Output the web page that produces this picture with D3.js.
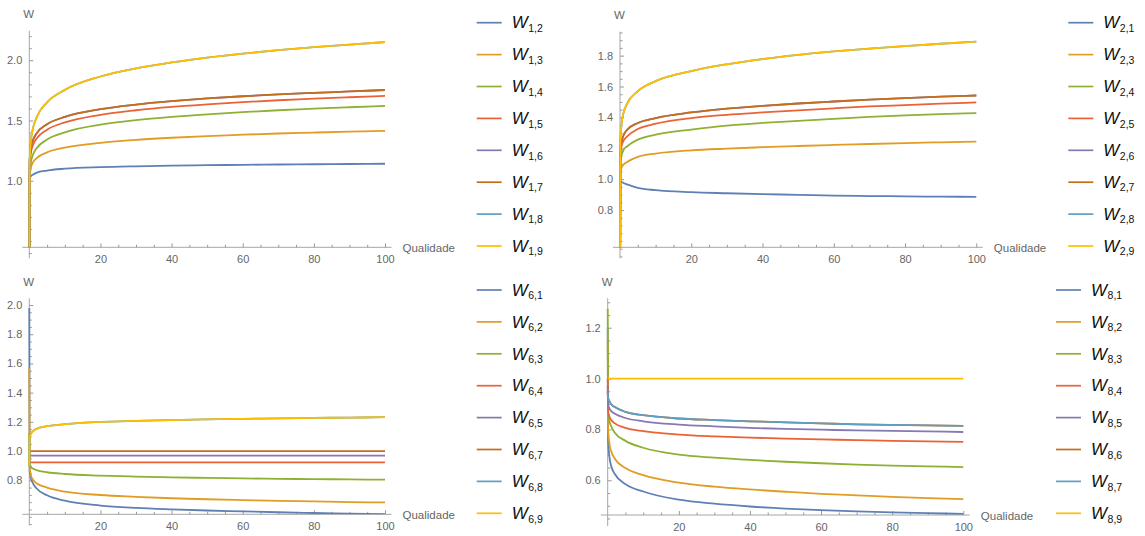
<!DOCTYPE html>
<html>
<head>
<meta charset="utf-8">
<script src="https://cdn.jsdelivr.net/npm/d3@7"></script>
<style>
  body { margin: 0; background: #fff; }
  svg { font-family: "Liberation Sans", Arial, sans-serif; }
  .tick text { fill: #666; font-size: 11px; }
  .tick line { stroke: #999; }
  .axis-line { stroke: #a6a6a6; stroke-width: 1; }
  .axis-title { fill: #666; font-size: 11.5px; }
</style>
</head>
<body>
<svg id="chart" width="1145" height="536"></svg>
<script>
// sample points along "Qualidade"
const quality = [0, 0.1, 0.5, 1, 2, 5, 10, 20, 30, 40, 50, 60, 70, 80, 90, 100];

// W1,j
const w1_2 = [0, 1.02, 1.04, 1.05, 1.066, 1.085, 1.10, 1.113, 1.12, 1.125, 1.129, 1.132, 1.135, 1.137, 1.139, 1.141];
const w1_3 = [0, 1.037, 1.115, 1.150, 1.186, 1.236, 1.275, 1.315, 1.340, 1.357, 1.371, 1.382, 1.392, 1.400, 1.408, 1.414];
const w1_4 = [0, 1.049, 1.161, 1.213, 1.267, 1.342, 1.402, 1.465, 1.503, 1.530, 1.551, 1.569, 1.585, 1.598, 1.610, 1.621];
const w1_5 = [0, 1.126, 1.240, 1.293, 1.348, 1.424, 1.484, 1.547, 1.585, 1.613, 1.634, 1.652, 1.668, 1.681, 1.693, 1.704];
const w1_7 = [0, 1.165, 1.282, 1.335, 1.391, 1.469, 1.530, 1.594, 1.632, 1.660, 1.683, 1.701, 1.716, 1.729, 1.741, 1.753];
const w1_9 = [0, 1.167, 1.344, 1.431, 1.522, 1.651, 1.754, 1.865, 1.933, 1.982, 2.022, 2.055, 2.084, 2.108, 2.130, 2.150];
const w1_6 = w1_7; // covered by W1,7
const w1_8 = w1_9; // covered by W1,9

// W2,j
const w2_1 = [0, 0.985, 0.982, 0.975, 0.966, 0.944, 0.929, 0.916, 0.909, 0.903, 0.899, 0.894, 0.891, 0.889, 0.887, 0.886];
const w2_3 = [0, 1.05, 1.08, 1.095, 1.112, 1.145, 1.166, 1.187, 1.198, 1.207, 1.215, 1.222, 1.228, 1.234, 1.239, 1.243];
const w2_4 = [0, 1.11, 1.16, 1.19, 1.213, 1.256, 1.288, 1.321, 1.347, 1.364, 1.378, 1.391, 1.403, 1.413, 1.421, 1.428];
const w2_5 = [0, 1.17, 1.22, 1.25, 1.277, 1.325, 1.359, 1.396, 1.417, 1.432, 1.446, 1.459, 1.471, 1.480, 1.489, 1.497];
const w2_7 = [0, 1.20, 1.25, 1.285, 1.32, 1.364, 1.396, 1.432, 1.457, 1.475, 1.490, 1.503, 1.515, 1.525, 1.534, 1.542];
const w2_9 = [0, 1.25, 1.37, 1.43, 1.49, 1.57, 1.635, 1.70, 1.744, 1.778, 1.805, 1.827, 1.846, 1.862, 1.877, 1.891];
const w2_6 = w2_7;
const w2_8 = w2_9;

// W6,j
const w6_1 = [1.98, 0.86, 0.81, 0.78, 0.745, 0.697, 0.66, 0.627, 0.611, 0.601, 0.593, 0.587, 0.581, 0.576, 0.572, 0.568];
const w6_2 = [1.57, 0.89, 0.83, 0.805, 0.78, 0.75, 0.722, 0.699, 0.687, 0.677, 0.670, 0.664, 0.659, 0.655, 0.651, 0.648];
const w6_3 = [1.12, 0.91, 0.89, 0.88, 0.87, 0.855, 0.843, 0.832, 0.825, 0.82, 0.816, 0.813, 0.81, 0.808, 0.806, 0.804];
const w6_4 = [0.922, 0.922, 0.922, 0.922, 0.922, 0.922, 0.922, 0.922, 0.922, 0.922, 0.922, 0.922, 0.922, 0.922, 0.922, 0.922];
const w6_5 = [0.969, 0.969, 0.969, 0.969, 0.969, 0.969, 0.969, 0.969, 0.969, 0.969, 0.969, 0.969, 0.969, 0.969, 0.969, 0.969];
const w6_7 = [1, 1, 1, 1, 1, 1, 1, 1, 1, 1, 1, 1, 1, 1, 1, 1];
const w6_9 = [0.9, 1.09, 1.12, 1.135, 1.152, 1.17, 1.184, 1.20, 1.207, 1.212, 1.217, 1.221, 1.224, 1.227, 1.229, 1.232];
const w6_8 = w6_9;

// W8,j
const w8_1 = [1.2, 0.76, 0.69, 0.655, 0.625, 0.585, 0.556, 0.524, 0.508, 0.497, 0.489, 0.483, 0.478, 0.474, 0.471, 0.468];
const w8_2 = [1.15, 0.81, 0.742, 0.713, 0.685, 0.648, 0.62, 0.591, 0.575, 0.564, 0.555, 0.547, 0.541, 0.535, 0.530, 0.526];
const w8_3 = [1.275, 0.865, 0.832, 0.812, 0.787, 0.755, 0.728, 0.701, 0.689, 0.68, 0.673, 0.667, 0.662, 0.658, 0.655, 0.652];
const w8_4 = [1.0, 0.875, 0.85, 0.837, 0.824, 0.806, 0.793, 0.780, 0.773, 0.768, 0.764, 0.761, 0.758, 0.755, 0.753, 0.751];
const w8_5 = [0.97, 0.90, 0.882, 0.872, 0.862, 0.845, 0.832, 0.819, 0.812, 0.806, 0.802, 0.799, 0.796, 0.794, 0.792, 0.790];
const w8_7 = [0.95, 0.925, 0.91, 0.899, 0.888, 0.869, 0.856, 0.843, 0.837, 0.832, 0.828, 0.824, 0.82, 0.818, 0.816, 0.814];
const w8_9 = [1, 1, 1, 1, 1, 1, 1, 1, 1, 1, 1, 1, 1, 1, 1, 1];
const w8_6 = w8_7;

const labels1 = ["1,2", "1,3", "1,4", "1,5", "1,6", "1,7", "1,8", "1,9"];
const labels2 = ["2,1", "2,3", "2,4", "2,5", "2,6", "2,7", "2,8", "2,9"];
const labels6 = ["6,1", "6,2", "6,3", "6,4", "6,5", "6,7", "6,8", "6,9"];
const labels8 = ["8,1", "8,2", "8,3", "8,4", "8,5", "8,6", "8,7", "8,9"];

const xTicks = [20, 40, 60, 80, 100];
const yTicks1 = [1.0, 1.5, 2.0];
const yTicks2 = [0.8, 1.0, 1.2, 1.4, 1.6, 1.8];
const yTicks6 = [0.8, 1.0, 1.2, 1.4, 1.6, 1.8, 2.0];
const yTicks8 = [0.6, 0.8, 1.0, 1.2];

const colors = ["#5e81b5", "#e19c24", "#8fb032", "#eb6235", "#8778b3", "#c56e1a", "#5d9ec7", "#ffbf00"];

const panels = [
  { series: [w1_2, w1_3, w1_4, w1_5, w1_6, w1_7, w1_8, w1_9], labels: labels1, yTicks: yTicks1, minor: 0.1,
    yd: [0.448, 2.245], xr: [29.3, 385], yr: [247.3, 30.7], lx: 476.7, ly: 22.7 },
  { series: [w2_1, w2_3, w2_4, w2_5, w2_6, w2_7, w2_8, w2_9], labels: labels2, yTicks: yTicks2, minor: 0.05,
    yd: [0.559, 1.955], xr: [620, 976.3], yr: [247.3, 31.7], lx: 1068.3, ly: 22.7 },
  { series: [w6_1, w6_2, w6_3, w6_4, w6_5, w6_7, w6_8, w6_9], labels: labels6, yTicks: yTicks6, minor: 0.05,
    yd: [0.567, 2.046], xr: [29.3, 385], yr: [514.3, 298.3], lx: 476.7, ly: 290 },
  { series: [w8_1, w8_2, w8_3, w8_4, w8_5, w8_6, w8_7, w8_9], labels: labels8, yTicks: yTicks8, minor: 0.05,
    yd: [0.4636, 1.3156], xr: [607.7, 963.3], yr: [515, 298.3], lx: 1056, ly: 290 }
];

const svg = d3.select("#chart");
const fmt = d3.format(".1f");

panels.forEach((p, pi) => {
  const x = d3.scaleLinear().domain([0, 100]).range(p.xr);
  const y = d3.scaleLinear().domain(p.yd).range(p.yr);
  const g = svg.append("g");
  const axisY = p.yr[0];
  const axisX = p.xr[0];

  // axes lines
  g.append("line").attr("class", "axis-line")
    .attr("x1", axisX - 7).attr("x2", x(100) + 6.5)
    .attr("y1", axisY).attr("y2", axisY);
  g.append("line").attr("class", "axis-line")
    .attr("x1", axisX).attr("x2", axisX)
    .attr("y1", p.yr[1]).attr("y2", axisY + 11);

  // x ticks
  const xMinor = d3.range(5, 101, 5).filter(v => v % 20 !== 0);
  g.append("g").attr("transform", `translate(0,${axisY})`)
    .call(d3.axisBottom(x).tickValues(xMinor).tickSizeInner(-2.5).tickSizeOuter(0).tickFormat(""))
    .call(s => s.select(".domain").remove());
  g.append("g").attr("transform", `translate(0,${axisY})`)
    .call(d3.axisBottom(x).tickValues(xTicks).tickSizeInner(-4).tickSizeOuter(0).tickPadding(8))
    .call(s => s.select(".domain").remove());

  // y ticks
  const yLow = y.invert(axisY + 11);
  const yTop = p.yd[1];
  const yMinor = d3.range(Math.ceil(yLow / p.minor), Math.floor(yTop / p.minor) + 1)
    .map(k => k * p.minor)
    .filter(v => !p.yTicks.some(m => Math.abs(m - v) < 1e-6));
  g.append("g").attr("transform", `translate(${axisX},0)`)
    .call(d3.axisLeft(y).tickValues(yMinor).tickSizeInner(-2.5).tickSizeOuter(0).tickFormat(""))
    .call(s => s.select(".domain").remove());
  g.append("g").attr("transform", `translate(${axisX},0)`)
    .call(d3.axisLeft(y).tickValues(p.yTicks).tickSizeInner(-4).tickSizeOuter(0).tickPadding(7).tickFormat(fmt))
    .call(s => s.select(".domain").remove());

  // axis titles
  g.append("text").attr("class", "axis-title")
    .attr("x", axisX - 0.5).attr("y", p.yr[1] - 12.5)
    .attr("text-anchor", "middle").text("W");
  g.append("text").attr("class", "axis-title")
    .attr("x", x(100) + 17.5).attr("y", axisY + 4.5)
    .text("Qualidade");

  // curves
  const clipId = "clip" + pi;
  svg.append("clipPath").attr("id", clipId)
    .append("rect")
    .attr("x", axisX - 2).attr("y", p.yr[1])
    .attr("width", x(100) - axisX + 4).attr("height", axisY - p.yr[1]);

  const line = d3.line()
    .x(d => x(d[0]))
    .y(d => y(d[1]))
    .curve(d3.curveMonotoneX);

  g.append("g").attr("clip-path", `url(#${clipId})`)
    .selectAll("path")
    .data(p.series)
    .join("path")
    .attr("d", s => line(d3.zip(quality, s)))
    .attr("fill", "none")
    .attr("stroke", (s, i) => colors[i])
    .attr("stroke-width", 1.8)
    .attr("stroke-linejoin", "round");

  // legend
  const lg = g.append("g");
  const row = lg.selectAll("g")
    .data(p.labels)
    .join("g")
    .attr("transform", (d, i) => `translate(${p.lx},${p.ly + i * 31.9})`);
  row.append("line")
    .attr("x1", 0).attr("x2", 25)
    .attr("stroke", (d, i) => colors[i])
    .attr("stroke-width", 1.7);
  const t = row.append("text").attr("x", 35).attr("y", 5.7).attr("fill", "#111");
  t.append("tspan").attr("font-style", "italic").attr("font-size", 17).text("W");
  t.append("tspan").attr("font-size", 10.5).attr("dy", 3.5).attr("dx", 0.5).text(d => d);
});
</script>
</body>
</html>
